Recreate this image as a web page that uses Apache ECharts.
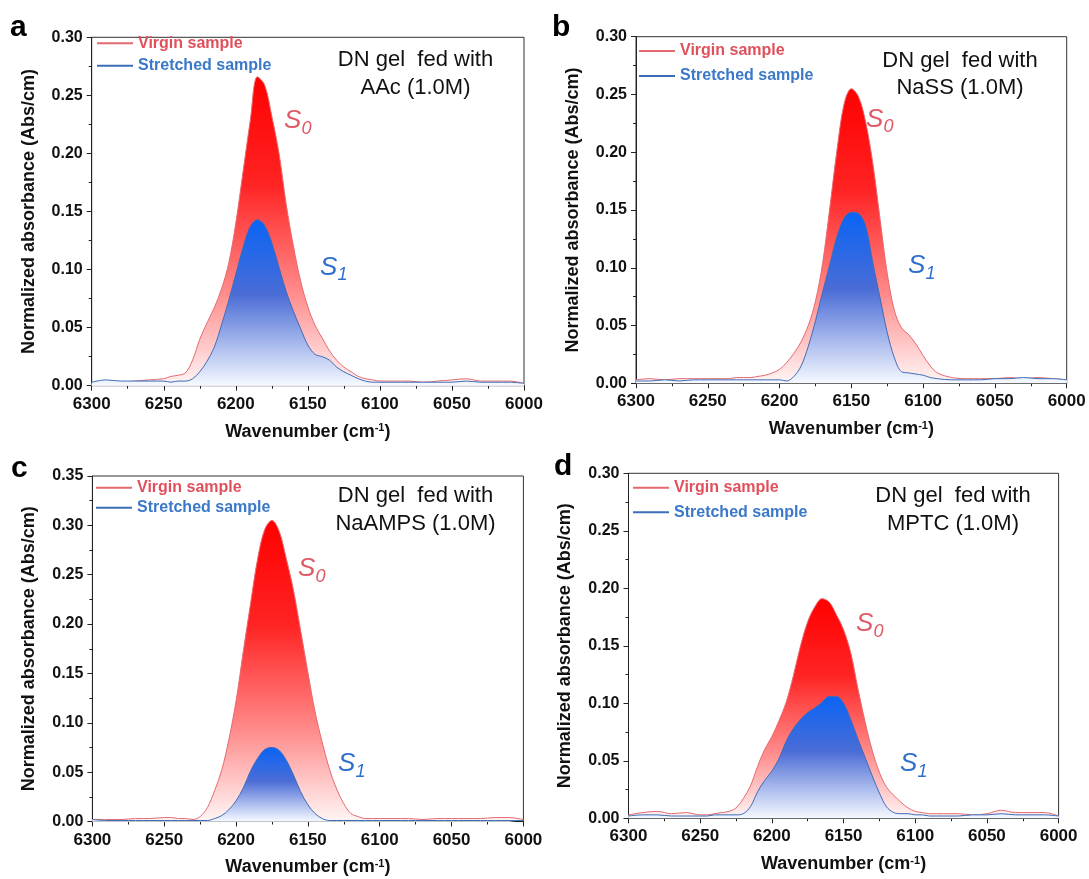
<!DOCTYPE html>
<html><head><meta charset="utf-8">
<script src="https://cdn.jsdelivr.net/npm/echarts@6/dist/echarts.min.js"></script>
<style>html,body{margin:0;padding:0;background:#fff}#c{width:1089px;height:879px}</style>
</head><body><div id="c"></div>
<script>
// ---------- data ----------
const wavenumbers = [6300,6290,6280,6270,6260,6250,6245,6240,6235,6230,6225,6220,6215,6210,6205,6200,6195,6190,6185,6180,6175,6170,6165,6160,6155,6150,6145,6140,6135,6130,6125,6120,6115,6110,6105,6100,6095,6090,6080,6070,6060,6050,6040,6030,6020,6010,6000];

const aVirgin    = [.001,.002,.003,.004,.005,.006,.008,.009,.011,.022, .040,.054,.067,.083,.105,.140,.184,.228,.266,.259, .232,.200,.156,.120,.090,.068,.052,.041,.030,.022, .016,.012,.008,.006,.005,.004,.004,.004,.004,.003, .004,.005,.006,.004,.004,.004,.002];
const aStretched = [.003,.005,.004,.004,.004,.004,.003,.004,.004,.006, .012,.021,.033,.052,.073,.096,.119,.137,.143,.138, .123,.102,.081,.064,.049,.035,.027,.025,.022,.016, .012,.009,.006,.004,.003,.003,.003,.003,.003,.003, .003,.003,.004,.003,.003,.003,.002];

const bVirgin    = [.003,.004,.003,.004,.004,.004,.004,.004,.004,.005, .005,.005,.006,.007,.009,.012,.018,.026,.036,.050, .071,.104,.152,.202,.242,.255,.248,.226,.190,.142, .095,.063,.048,.042,.034,.024,.015,.009,.005,.004, .004,.004,.005,.004,.005,.004,.003];
const bStretched = [.002,.002,.003,.002,.003,.003,.003,.003,.003,.003, .003,.003,.003,.003,.003,.003,.002,.006,.015,.032, .054,.079,.103,.127,.143,.148,.147,.136,.104,.074, .044,.022,.010,.009,.008,.007,.005,.004,.003,.003, .003,.004,.004,.005,.004,.004,.003];

const cVirgin    = [.002,.002,.002,.003,.003,.004,.004,.003,.003,.002, .005,.014,.031,.052,.083,.122,.172,.220,.266,.296, .305,.294,.266,.234,.193,.151,.111,.080,.053,.033, .018,.008,.005,.003,.003,.003,.003,.003,.003,.002, .003,.003,.003,.003,.004,.004,.002];
const cStretched = [.002,.001,.001,.001,.001,.001,.001,.001,.001,.001, .001,.001,.003,.006,.012,.021,.034,.051,.064,.073, .075,.072,.062,.047,.030,.017,.008,.003,.001,.001, .001,.001,.001,.001,.001,.001,.001,.001,.001,.001, .001,.001,.001,.001,.001,.001,.001];

const dVirgin    = [.003,.005,.006,.004,.005,.003,.003,.004,.005,.006, .009,.017,.028,.045,.060,.071,.085,.101,.124,.150, .171,.184,.191,.188,.177,.164,.144,.113,.084,.059, .040,.027,.020,.014,.009,.006,.005,.004,.004,.004, .003,.004,.007,.005,.005,.005,.002];
const dStretched = [.002,.003,.003,.002,.002,.002,.002,.003,.003,.003, .003,.004,.010,.023,.033,.041,.052,.067,.078,.086, .092,.096,.101,.106,.106,.100,.086,.069,.053,.037, .022,.010,.005,.004,.004,.003,.003,.002,.002,.002, .003,.003,.004,.003,.003,.003,.002];

const panelLetters = ['a','b','c','d'];
const monomers = ['AAc (1.0M)','NaSS (1.0M)','NaAMPS (1.0M)','MPTC (1.0M)'];
const yMaxes = [0.30,0.30,0.35,0.30];
const seriesNames = ['Virgin sample','Stretched sample'];
const xTitle = 'Wavenumber (cm{sup|-1})';
const yTitle = 'Normalized absorbance (Abs/cm)';

// ---------- layout / style ----------
const FONT = '"Liberation Sans", Arial, sans-serif';
const RED_LINE = '#e46a70', BLUE_LINE = '#3d6db8';
const RED_TXT = '#e0505c', BLUE_TXT = '#3a78c8';
const grids = [
  {left:91.7, top:37.3, width:432.3, height:348.4},
  {left:636,  top:36.7, width:430.7, height:346.6},
  {left:92.4, top:476,  width:431,   height:345.5},
  {left:628.5,top:473.3,width:430.1, height:345}
];
const legendPos = [
  {left:97,  top:35.3, itemGap:6.4},
  {left:639, top:43,   itemGap:9},
  {left:96,  top:479.7,itemGap:4},
  {left:633, top:479.7,itemGap:8.6}
];
const letterPos = [[19,30],[561,30],[20,471],[563,469]];
const notePos = [[415.5,67.7,96],[960,68.3,96],[415.5,504,531.7],[953,504,532]];
const sPos = [
  [[284,130],[320,276.7]],
  [[866,128.3],[908,275]],
  [[298,578],[338,773]],
  [[856,633],[900,773]]
];
const panels = [[aVirgin,aStretched],[bVirgin,bStretched],[cVirgin,cStretched],[dVirgin,dStretched]];

const redGrad = () => new echarts.graphic.LinearGradient(0,0,0,1,[
  {offset:0,color:'#ff0000'},{offset:0.35,color:'#ff2424'},{offset:0.7,color:'#ff8c8c'},{offset:1,color:'#fff6f6'}]);
const blueGrad = () => new echarts.graphic.LinearGradient(0,0,0,1,[
  {offset:0,color:'#0a64f5'},{offset:0.45,color:'#4a6cd6'},{offset:1,color:'#f6f9ff'}]);

const option = {
  backgroundColor:'#fff', animation:false,
  grid: grids.map(g => Object.assign({show:true, borderColor:'#333', borderWidth:1, backgroundColor:'transparent'}, g)),
  xAxis: grids.map((g,i) => ({
    gridIndex:i, type:'value', min:6000, max:6300, interval:50, inverse:true,
    name:xTitle, nameLocation:'middle', nameGap:37,
    nameTextStyle:{fontSize:18, fontWeight:'bold', color:'#111', fontFamily:FONT,
      rich:{sup:{fontSize:11, fontWeight:'bold', color:'#111', fontFamily:FONT, verticalAlign:'top'}}},
    axisLine:{show:true, lineStyle:{color:'#222', width:1}},
    axisTick:{show:true, inside:false, length:5, lineStyle:{color:'#222'}},
    minorTick:{show:true, splitNumber:2, length:3, lineStyle:{color:'#222'}},
    splitLine:{show:false}, minorSplitLine:{show:false},
    axisLabel:{margin:10, fontSize:17, fontWeight:'bold', color:'#111', fontFamily:FONT,
      formatter:v => String(v)}
  })),
  yAxis: grids.map((g,i) => ({
    gridIndex:i, type:'value', min:0, max:yMaxes[i], interval:0.05,
    name:yTitle, nameLocation:'middle', nameGap:54,
    nameTextStyle:{fontSize:18, fontWeight:'bold', color:'#111', fontFamily:FONT},
    axisLine:{show:true, lineStyle:{color:'#222', width:1}},
    axisTick:{show:true, inside:false, length:5, lineStyle:{color:'#222'}},
    minorTick:{show:true, splitNumber:2, length:3, lineStyle:{color:'#222'}},
    splitLine:{show:false}, minorSplitLine:{show:false},
    axisLabel:{margin:9, fontSize:16, fontWeight:'bold', color:'#111', fontFamily:FONT,
      formatter:v => v.toFixed(2)}
  })),
  legend: legendPos.map(p => ({
    left:p.left, top:p.top, itemGap:p.itemGap, orient:'vertical', selectedMode:false,
    icon:'rect', itemWidth:36, itemHeight:2, padding:0,
    textStyle:{fontSize:16, fontWeight:'bold', fontFamily:FONT, lineHeight:16},
    data:[{name:seriesNames[0], textStyle:{color:RED_TXT}},{name:seriesNames[1], textStyle:{color:BLUE_TXT}}]
  })),
  series: [],
  graphic: []
};

panels.forEach((pair,i) => {
  pair.forEach((vals,j) => {
    option.series.push({
      name:seriesNames[j], type:'line', xAxisIndex:i, yAxisIndex:i,
      data: wavenumbers.map((w,k) => [w, vals[k]]),
      smooth:0.35, symbol:'none', clip:true,
      lineStyle:{color: j===0 ? RED_LINE : BLUE_LINE, width:1},
      itemStyle:{color: j===0 ? RED_LINE : BLUE_LINE},
      areaStyle:{color: j===0 ? redGrad() : blueGrad(), opacity:1},
      z: 2 + j
    });
  });
  option.graphic.push({type:'text', left:letterPos[i][0]-9, top:letterPos[i][1]-17,
    style:{text:panelLetters[i], font:'bold 30px '+FONT, fill:'#000'}});
  const [cx,b1,b2] = notePos[i];
  option.graphic.push({type:'text', x:cx, y:b1-7.7, style:{text:'DN gel  fed with', font:'22px '+FONT, fill:'#111', align:'center', verticalAlign:'middle'}});
  option.graphic.push({type:'text', x:cx, y:b2-7.7, style:{text:monomers[i], font:'22px '+FONT, fill:'#111', align:'center', verticalAlign:'middle'}});
  sPos[i].forEach((p,j) => {
    const col = j===0 ? '#e05a66' : '#2f6fcc';
    option.graphic.push({type:'text', x:p[0], y:p[1]-9, style:{text:'S', font:'italic 26px '+FONT, fill:col, align:'left', verticalAlign:'middle'}});
    option.graphic.push({type:'text', x:p[0]+17.5, y:p[1]-1.5, style:{text:String(j), font:'italic 18px '+FONT, fill:col, align:'left', verticalAlign:'middle'}});
  });
});

const chart = echarts.init(document.getElementById('c'), null, {renderer:'canvas'});
chart.setOption(option);
</script>
</body></html>
